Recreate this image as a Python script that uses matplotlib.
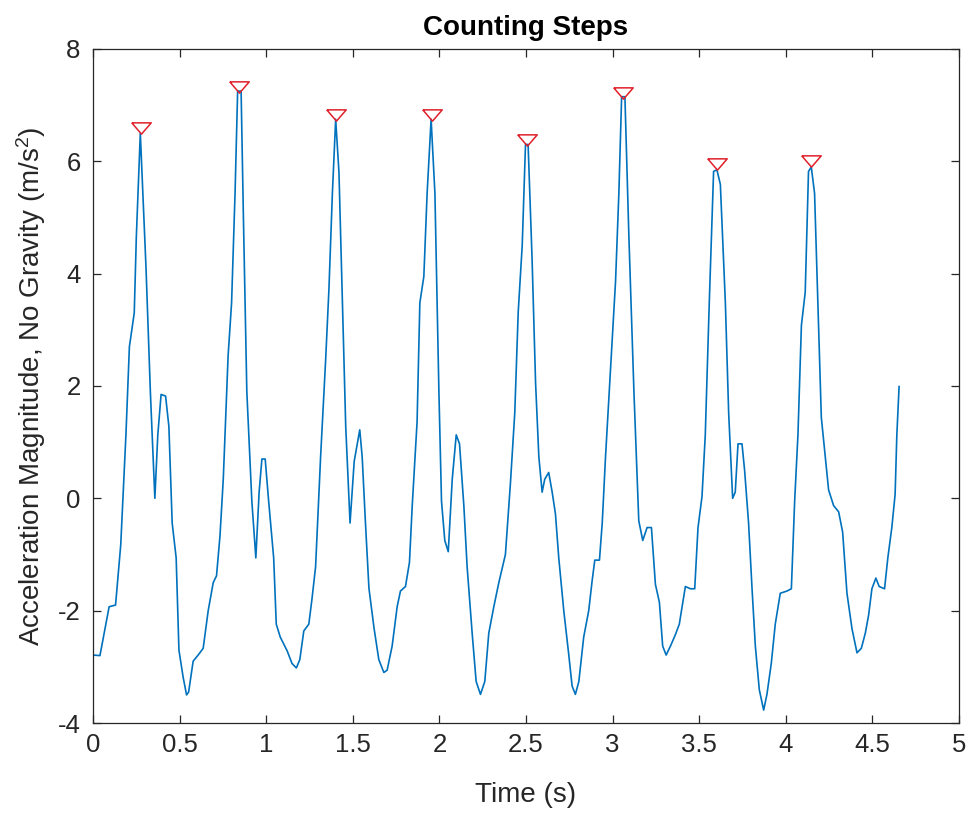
import matplotlib

matplotlib.use("Agg")
import matplotlib.pyplot as plt

# Senal (tiempo en s, aceleracion en m/s^2)
tiempo = [
    0.0, 0.04, 0.093, 0.13, 0.16, 0.19, 0.21, 0.238, 0.25, 0.273,
    0.306, 0.331, 0.357, 0.374, 0.393, 0.419, 0.438, 0.457, 0.48, 0.496,
    0.52, 0.54, 0.552, 0.578, 0.607, 0.636, 0.665, 0.694, 0.713, 0.733,
    0.752, 0.78, 0.8, 0.82, 0.835, 0.855, 0.868, 0.888, 0.917, 0.94,
    0.959, 0.975, 0.994, 1.014, 1.043, 1.058, 1.081, 1.12, 1.149, 1.174,
    1.194, 1.217, 1.246, 1.265, 1.285, 1.314, 1.343, 1.362, 1.382, 1.401,
    1.42, 1.44, 1.459, 1.484, 1.508, 1.54, 1.554, 1.573, 1.593, 1.622,
    1.65, 1.679, 1.698, 1.727, 1.756, 1.775, 1.804, 1.827, 1.843, 1.871,
    1.887, 1.91, 1.929, 1.952, 1.974, 1.997, 2.012, 2.031, 2.051, 2.074,
    2.097, 2.116, 2.141, 2.16, 2.189, 2.212, 2.237, 2.262, 2.285, 2.314,
    2.343, 2.381, 2.41, 2.435, 2.455, 2.478, 2.497, 2.512, 2.535, 2.555,
    2.574, 2.593, 2.608, 2.631, 2.651, 2.67, 2.689, 2.718, 2.747, 2.766,
    2.785, 2.805, 2.833, 2.862, 2.882, 2.897, 2.924, 2.94, 2.959, 2.988,
    3.017, 3.036, 3.052, 3.071, 3.094, 3.123, 3.151, 3.174, 3.199, 3.224,
    3.247, 3.27, 3.289, 3.309, 3.334, 3.362, 3.385, 3.42, 3.449, 3.474,
    3.493, 3.516, 3.535, 3.558, 3.583, 3.602, 3.622, 3.651, 3.67, 3.693,
    3.708, 3.724, 3.747, 3.762, 3.785, 3.805, 3.824, 3.847, 3.872, 3.891,
    3.916, 3.939, 3.968, 4.007, 4.032, 4.051, 4.07, 4.09, 4.112, 4.131,
    4.147, 4.166, 4.189, 4.205, 4.228, 4.247, 4.276, 4.305, 4.328, 4.353,
    4.382, 4.411, 4.436, 4.459, 4.478, 4.497, 4.52, 4.539, 4.57, 4.589,
    4.612, 4.631, 4.641, 4.654,
]
aceleracion = [
    -2.79, -2.8, -1.93, -1.9, -0.83, 1.13, 2.7, 3.3, 4.65, 6.5,
    4.1, 1.9, 0.0, 1.13, 1.85, 1.82, 1.28, -0.44, -1.06, -2.7,
    -3.18, -3.5, -3.45, -2.9, -2.79, -2.67, -2.0, -1.5, -1.38, -0.67,
    0.34, 2.54, 3.48, 5.43, 7.25, 7.25, 5.05, 1.9, -0.05, -1.06,
    0.11, 0.7, 0.7, -0.05, -1.06, -2.24, -2.47, -2.71, -2.94, -3.02,
    -2.87, -2.36, -2.24, -1.77, -1.22, 0.74, 2.46, 3.72, 5.43, 6.75,
    5.8, 3.48, 1.28, -0.44, 0.66, 1.22, 0.74, -0.44, -1.6, -2.3,
    -2.87, -3.1, -3.06, -2.63, -1.93, -1.65, -1.57, -1.14, -0.13, 1.36,
    3.48, 3.95, 5.43, 6.75, 5.43, 1.9, -0.05, -0.75, -0.95, 0.34,
    1.13, 0.97, -0.13, -1.22, -2.4, -3.26, -3.49, -3.26, -2.4, -1.93,
    -1.5, -1.0, 0.27, 1.52, 3.32, 4.5, 6.3, 6.3, 4.26, 2.07,
    0.74, 0.11, 0.34, 0.46, 0.11, -0.28, -1.06, -2.0, -2.79, -3.34,
    -3.49, -3.26, -2.47, -2.0, -1.46, -1.1, -1.1, -0.44, 0.74, 2.3,
    3.87, 5.43, 7.15, 7.15, 4.65, 1.9, -0.4, -0.75, -0.52, -0.52,
    -1.53, -1.85, -2.63, -2.79, -2.63, -2.43, -2.24, -1.57, -1.61, -1.61,
    -0.52, 0.03, 1.13, 3.48, 5.82, 5.85, 5.59, 3.48, 1.52, 0.0,
    0.11, 0.97, 0.97, 0.5, -0.44, -1.61, -2.63, -3.41, -3.77, -3.49,
    -2.94, -2.24, -1.69, -1.65, -1.61, -0.05, 1.13, 3.08, 3.67, 5.82,
    5.9, 5.43, 3.08, 1.44, 0.74, 0.15, -0.13, -0.24, -0.6, -1.69,
    -2.32, -2.75, -2.67, -2.4, -2.08, -1.61, -1.42, -1.57, -1.61, -1.06,
    -0.52, 0.07, 1.13, 1.99,
]

# Picos detectados (posicion del marcador)
picos_t = [0.275, 0.845, 1.401, 1.955, 2.508, 3.062, 3.603, 4.148]
picos_val = [6.6, 7.32, 6.83, 6.83, 6.38, 7.22, 5.95, 6.0]

xticks = [0, 0.5, 1, 1.5, 2, 2.5, 3, 3.5, 4, 4.5, 5]
yticks = [-4, -2, 0, 2, 4, 6, 8]

plt.rcParams["font.family"] = ["Liberation Sans", "DejaVu Sans"]
plt.rcParams["axes.unicode_minus"] = False
gris = "#262626"

fig = plt.figure(figsize=(9.69, 8.19), dpi=100)
ax = fig.add_axes([0.096, 0.1172, 0.8937, 0.823])

ax.plot(tiempo, aceleracion, color="#0072BD", linewidth=1.2)
triangulo = [(-1, 0.58), (1, 0.58), (0, -0.58), (-1, 0.58)]
ax.plot(picos_t, picos_val, linestyle="none", marker=triangulo, markersize=14,
        markerfacecolor="none", markeredgecolor="#E0202A", markeredgewidth=1.1)

ax.set_xlim(0, 5)
ax.set_ylim(-4, 8)
ax.set_xticks(xticks)
ax.set_xticklabels([f"{v:g}" for v in xticks])
ax.set_yticks(yticks)
ax.tick_params(direction="in", length=6, width=0.9, top=True, right=True,
               labelsize=18.5, colors=gris)
ax.tick_params(axis="y", pad=9)
ax.tick_params(axis="x", pad=7)
for lado in ax.spines.values():
    lado.set_color(gris)
    lado.set_linewidth(0.9)

ax.set_xlabel("Time (s)", fontsize=20, color=gris, labelpad=18)
ax.set_ylabel(r"Acceleration Magnitude, No Gravity (m/s$\mathregular{^2}$)",
              fontsize=20, color=gris, labelpad=7)
ax.set_title("Counting Steps", fontsize=20, fontweight="bold", pad=10)

fig.savefig("out.png", dpi=100)
